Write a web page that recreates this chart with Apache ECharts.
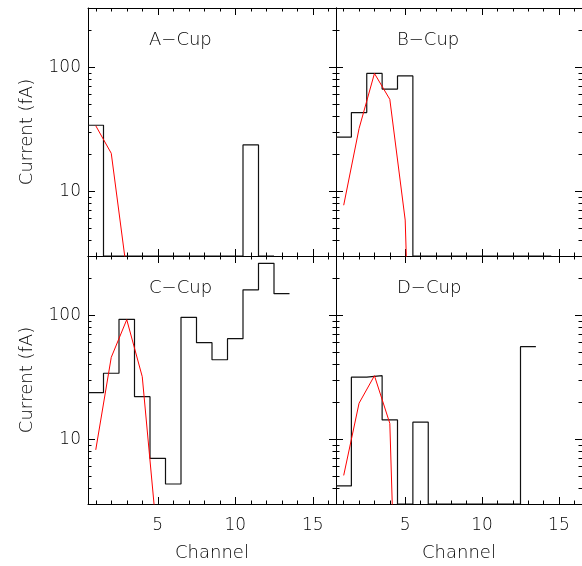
<!DOCTYPE html>
<html>
<head>
<meta charset="utf-8">
<script src="https://cdn.jsdelivr.net/npm/echarts@6/dist/echarts.min.js"></script>
<style>
  html, body { margin: 0; padding: 0; background: #fff; }
  #chart { width: 582px; height: 566px; }
</style>
</head>
<body>
<div id="chart"></div>
<script>
// --- Data (current in fA per channel) ---
const panelNames = ['A\u2212Cup', 'B\u2212Cup', 'C\u2212Cup', 'D\u2212Cup'];

// histogram (measured)
const aChannels = [1, 2, 3, 4, 5, 6, 7, 8, 9, 10, 11, 12];
const aCurrent  = [34, 3, 3, 3, 3, 3, 3, 3, 3, 3, 23.6, 3];
const bChannels = [1, 2, 3, 4, 5, 6, 7, 8, 9, 10, 11, 12, 13, 14];
const bCurrent  = [27.3, 43, 89, 66.6, 85, 3, 3, 3, 3, 3, 3, 3, 3, 3];
const cChannels = [1, 2, 3, 4, 5, 6, 7, 8, 9, 10, 11, 12, 13];
const cCurrent  = [23.7, 34, 92.5, 22, 7, 4.35, 96, 60, 43.7, 64.6, 160, 262, 149];
const dChannels = [1, 2, 3, 4, 5, 6, 7, 8, 9, 10, 11, 12, 13];
const dCurrent  = [4.2, 31.6, 32.5, 14.3, 3, 13.7, 3, 3, 3, 3, 3, 3, 55.7];

// fitted curve (red)
const aFitChannels = [1, 2, 3];
const aFit = [33.7, 20.2, 2.25];
const bFitChannels = [1, 2, 3, 4, 5, 6];
const bFit = [7.7, 32, 89, 55, 5.85, 0.0005];
const cFitChannels = [1, 2, 3, 4, 5];
const cFit = [8.2, 45.7, 92, 31.9, 1.42];
const dFitChannels = [1, 2, 3, 4, 5];
const dFit = [5.1, 19.5, 32.5, 13.4, 0.0011];

// axis ticks
const xMajor = [5, 10, 15];
const xMinor = [1, 2, 3, 4, 6, 7, 8, 9, 11, 12, 13, 14, 16];
const yMajor = [10, 100];
const yMinor = [3, 4, 5, 6, 7, 8, 9, 20, 30, 40, 50, 60, 70, 80, 90, 200, 300];

const panels = [
  { ch: aChannels, cur: aCurrent, fitCh: aFitChannels, fit: aFit },
  { ch: bChannels, cur: bCurrent, fitCh: bFitChannels, fit: bFit },
  { ch: cChannels, cur: cCurrent, fitCh: cFitChannels, fit: cFit },
  { ch: dChannels, cur: dCurrent, fitCh: dFitChannels, fit: dFit },
];

// --- Layout ---
const FONT = 'DejaVu Sans';
const txt = { fontFamily: FONT, fontSize: 17, fontWeight: 200, color: '#000' };
const grids = [
  { left: 88, top: 8, width: 248, height: 248 },
  { left: 336, top: 8, width: 248, height: 248 },
  { left: 88, top: 256, width: 248, height: 248 },
  { left: 336, top: 256, width: 248, height: 248 },
];
const X_MIN = 0.5, X_MAX = 16.5, Y_MIN = 3, Y_MAX = 300;
const LY_MIN = Math.log10(Y_MIN), LY_MAX = Math.log10(Y_MAX);
const axisLine = { show: true, onZero: false, lineStyle: { color: '#000', width: 1 } };
const noLine = { show: false, onZero: false };

function histPoints(ch, vals) {
  const pts = [];
  ch.forEach((c, i) => { pts.push([c - 0.5, vals[i]], [c + 0.5, vals[i]]); });
  return pts;
}

const xAxes = [], yAxes = [], series = [], titles = [];

panels.forEach((p, i) => {
  const isLeft = i % 2 === 0;
  const isBottom = i >= 2;
  const xBase = xAxes.length;
  const yBase = yAxes.length;

  const xa = (pos, ticks, len, line, labels, name) => ({
    type: 'value', gridIndex: i, position: pos, min: X_MIN, max: X_MAX,
    axisLine: line ? axisLine : noLine,
    axisTick: { show: true, inside: true, length: len, customValues: ticks, lineStyle: { color: '#000', width: 1 } },
    axisLabel: labels ? { show: true, customValues: ticks, margin: 13, ...txt } : { show: false },
    splitLine: { show: false },
    name: name || '', nameLocation: 'middle', nameGap: 40, nameTextStyle: { ...txt, fontSize: 18 },
  });
  xAxes.push(xa('bottom', xMajor, 7, true, isBottom, isBottom ? 'Channel' : ''));
  xAxes.push(xa('bottom', xMinor, 3.5, false, false));
  xAxes.push(xa('top', xMajor, 7, true, false));
  xAxes.push(xa('top', xMinor, 3.5, false, false));

  // log axis carrying the data
  yAxes.push({
    type: 'log', gridIndex: i, position: 'left', min: Y_MIN, max: Y_MAX,
    axisLine: axisLine, axisTick: { show: false }, axisLabel: { show: false },
    splitLine: { show: false }, minorTick: { show: false },
    name: isLeft ? 'Current (fA)' : '', nameLocation: 'middle', nameGap: 52,
    nameTextStyle: { ...txt, fontSize: 18 },
  });
  // tick overlays in log10 space
  const ya = (pos, ticks, len, line, labels) => ({
    type: 'value', gridIndex: i, position: pos, min: LY_MIN, max: LY_MAX,
    axisLine: line ? axisLine : noLine,
    axisTick: { show: true, inside: true, length: len, customValues: ticks.map(Math.log10), lineStyle: { color: '#000', width: 1 } },
    axisLabel: labels ? {
      show: true, customValues: ticks.map(Math.log10), margin: 7, ...txt,
      formatter: v => String(Math.round(Math.pow(10, v))),
    } : { show: false },
    splitLine: { show: false },
  });
  yAxes.push(ya('left', yMajor, 7, false, isLeft));
  yAxes.push(ya('left', yMinor, 3.5, false, false));
  yAxes.push(ya('right', yMajor, 7, true, false));
  yAxes.push(ya('right', yMinor, 3.5, false, false));

  series.push({
    type: 'line', xAxisIndex: xBase, yAxisIndex: yBase,
    data: histPoints(p.ch, p.cur), showSymbol: false, clip: true,
    lineStyle: { color: '#111', width: 1.2 }, silent: true,
  });
  series.push({
    type: 'line', xAxisIndex: xBase, yAxisIndex: yBase,
    data: p.fitCh.map((c, k) => [c, p.fit[k]]), showSymbol: false, clip: true,
    lineStyle: { color: '#ff0000', width: 1 }, silent: true,
  });

  titles.push({
    text: panelNames[i], left: grids[i].left + 61, top: grids[i].top + 23, padding: 0,
    textStyle: { ...txt, fontSize: 18 },
  });
});

const chart = echarts.init(document.getElementById('chart'), null, { renderer: 'canvas' });
chart.setOption({
  backgroundColor: '#fff',
  animation: false,
  title: titles,
  grid: grids,
  xAxis: xAxes,
  yAxis: yAxes,
  series: series,
});
</script>
</body>
</html>
